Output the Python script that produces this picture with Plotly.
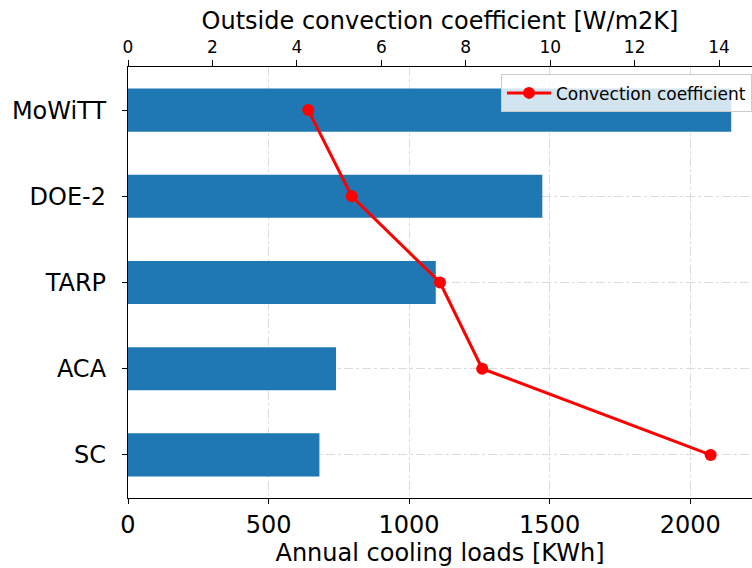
import plotly.graph_objects as go

categories = ["SC", "ACA", "TARP", "DOE-2", "MoWiTT"]
cooling_loads = [681, 740, 1095, 1474, 2146]
convection_coeff = [13.80, 8.39, 7.39, 5.30, 4.27]
load_ticks = [0, 500, 1000, 1500, 2000]
coeff_ticks = [0, 2, 4, 6, 8, 10, 12, 14]

FONT = "DejaVu Sans"

fig = go.Figure()
fig.add_trace(go.Bar(
    y=categories, x=cooling_loads, orientation="h", width=0.5,
    marker=dict(color="#1f77b4", line=dict(width=0)),
    showlegend=False, xaxis="x", yaxis="y",
))
fig.add_trace(go.Scatter(
    y=categories, x=convection_coeff, mode="lines+markers",
    name="Convection coefficient",
    line=dict(color="#ff0000", width=3),
    marker=dict(color="#ff0000", size=12),
    xaxis="x2", yaxis="y",
))

fig.update_layout(
    width=752, height=568,
    margin=dict(l=128, r=0, t=67, b=70),
    paper_bgcolor="white", plot_bgcolor="white",
    font=dict(family=FONT, color="black", size=24),
    xaxis=dict(
        range=[0, 2220], tickvals=load_ticks, ticks="outside", ticklen=5,
        tickwidth=1.3, tickcolor="black",
        showline=True, linecolor="black", linewidth=1.3,
        showgrid=True, gridcolor="#dcdcdc", griddash="dashdot", gridwidth=1,
        zeroline=False, tickfont=dict(size=24),
        title=dict(text="Annual cooling loads [KWh]", font=dict(size=24), standoff=6),
        automargin=False,
    ),
    xaxis2=dict(
        range=[0, 14.78], tickvals=coeff_ticks, overlaying="x", side="top",
        ticks="outside", ticklen=6, tickwidth=1.3, tickcolor="black",
        showline=True, linecolor="black", linewidth=1.3,
        showgrid=False, zeroline=False, tickfont=dict(size=17),
        title=dict(text="Outside convection coefficient [W/m2K]", font=dict(size=24), standoff=0),
        automargin=False,
    ),
    yaxis=dict(
        type="category", categoryorder="array", categoryarray=categories,
        range=[-0.5, 4.5], ticks="outside", ticklen=5, tickwidth=1.3,
        tickcolor="black", showline=True, linecolor="black", linewidth=1.3,
        showgrid=True, gridcolor="#dcdcdc", griddash="dashdot", gridwidth=1,
        zeroline=False, tickfont=dict(size=24), ticklabelstandoff=11,
        automargin=False,
    ),
    legend=dict(
        x=0.598, y=0.983, xanchor="left", yanchor="top",
        bgcolor="rgba(255,255,255,0.8)", bordercolor="#cccccc", borderwidth=1,
        font=dict(size=17, family=FONT), itemwidth=44,
    ),
)

fig.write_html("out.html", config={"displayModeBar": False},
               post_script="document.body.style.margin='0px';")
